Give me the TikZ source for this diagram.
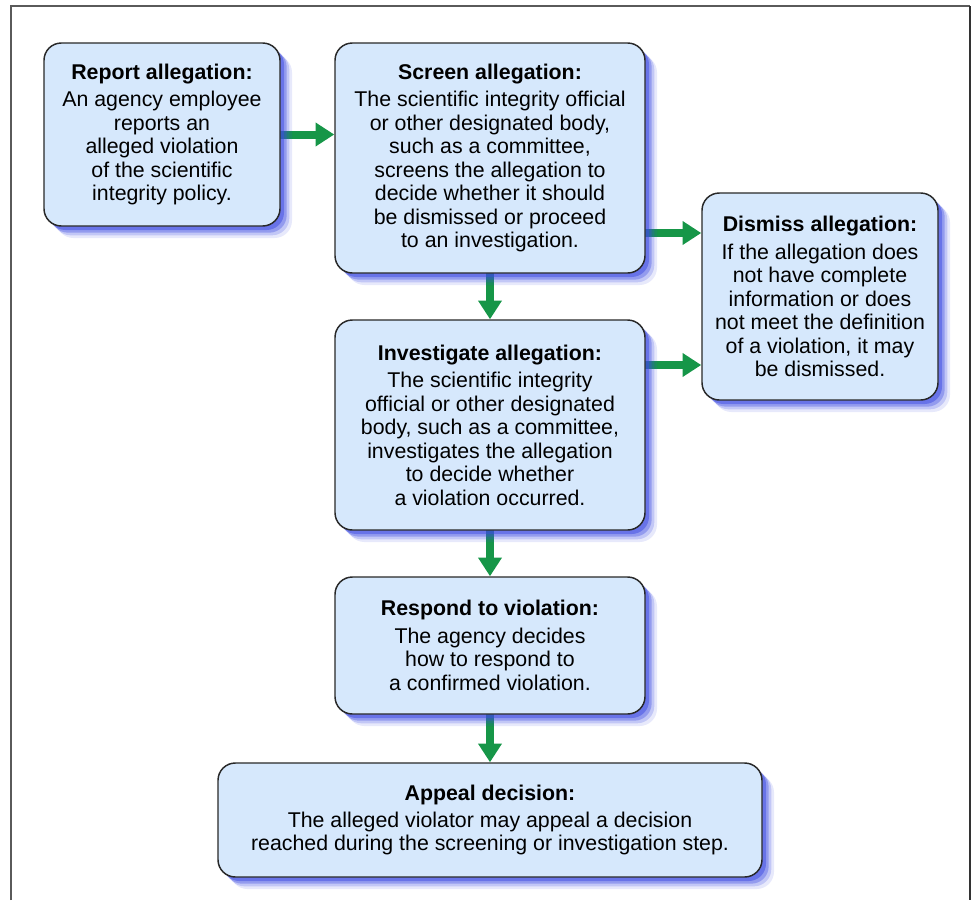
\documentclass[tikz,border=0pt]{standalone}
\usepackage{fontspec}
\setmainfont{Liberation Sans}
\usepackage{tikz}
\usetikzlibrary{positioning,calc,arrows.meta,shadows,backgrounds}

\definecolor{boxfill}{RGB}{214,232,252}
\definecolor{boxline}{RGB}{40,40,40}
\definecolor{shadeblue}{RGB}{60,75,225}
\definecolor{flowgreen}{RGB}{22,150,72}
\definecolor{framegray}{RGB}{90,90,90}

\begin{document}
\begin{tikzpicture}[x=0.75pt,y=-0.75pt,
	stepbox/.style={draw=boxline,line width=1.1pt,fill=boxfill,rounded corners=13pt,
		align=center,inner sep=0pt,font=\fontsize{16}{17.6}\selectfont,
		drop shadow={fill=shadeblue,opacity=0.12,shadow xshift=9pt,shadow yshift=-9pt},
		drop shadow={fill=shadeblue,opacity=0.22,shadow xshift=7pt,shadow yshift=-7pt},
		drop shadow={fill=shadeblue,opacity=0.35,shadow xshift=5pt,shadow yshift=-5pt},
		drop shadow={fill=shadeblue,opacity=0.5,shadow xshift=3pt,shadow yshift=-3pt}},
	flow/.style={draw=flowgreen,line width=6pt,-{Triangle[width=17pt,length=14pt]}}]
		\useasboundingbox (0,0) rectangle (974,900);
		% frame
		\draw[framegray,line width=1.2pt] (11,900) -- (11,6) -- (970,6);
		\draw[black!80,line width=1.8pt] (970,6) -- (970,900);
		% steps
		\node[stepbox,minimum width=177pt,minimum height=137.25pt] (report) at (162,134.5)
			{\textbf{Report allegation:}\\[3pt]An agency employee\\reports an\\alleged violation\\of the scientific\\integrity policy.};
		\node[stepbox,minimum width=232.5pt,minimum height=172.5pt] (screen) at (490,158)
			{\textbf{Screen allegation:}\\[3pt]The scientific integrity official\\or other designated body,\\such as a committee,\\screens the allegation to\\decide whether it should\\be dismissed or proceed\\to an investigation.};
		\node[stepbox,minimum width=177pt,minimum height=155.25pt] (dismiss) at (820,296.5)
			{\textbf{Dismiss allegation:}\\[3pt]If the allegation does\\not have complete\\information or does\\not meet the definition\\of a violation, it may\\be dismissed.};
		\node[stepbox,minimum width=232.5pt,minimum height=157.5pt] (investigate) at (490,425)
			{\textbf{Investigate allegation:}\\[3pt]The scientific integrity\\official or other designated\\body, such as a committee,\\investigates the allegation\\to decide whether\\a violation occurred.};
		\node[stepbox,minimum width=232.5pt,minimum height=102.75pt] (respond) at (490,645.5)
			{\textbf{Respond to violation:}\\[3pt]The agency decides\\how to respond to\\a confirmed violation.};
		\node[stepbox,minimum width=408pt,minimum height=85.5pt] (appeal) at (490,820)
			{\textbf{Appeal decision:}\\[3pt]The alleged violator may appeal a decision\\reached during the screening or investigation step.};
		% arrows
		\begin{pgfonlayer}{background}
		\draw[flow] (report.center) -- (report -| screen.west);
		\draw[flow] (screen.center |- 0,233) -- (dismiss.west |- 0,233);
		\draw[flow] (investigate.center |- 0,365) -- (dismiss.west |- 0,365);
		\draw[flow] (screen.center) -- (investigate.north);
		\draw[flow] (investigate.center) -- (respond.north);
		\draw[flow] (respond.center) -- (appeal.north);
		\end{pgfonlayer}
	\end{tikzpicture}
\end{document}
